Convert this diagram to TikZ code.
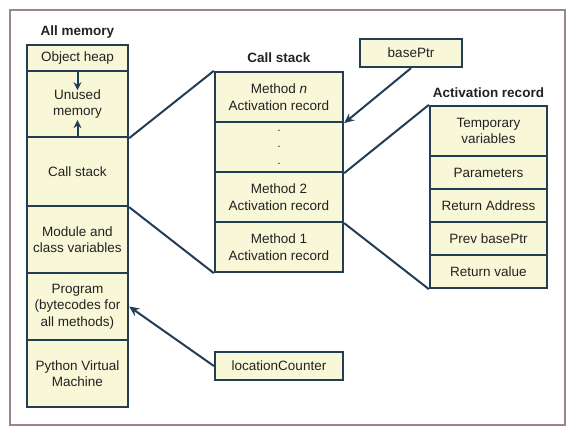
\documentclass[tikz,border=0pt]{standalone}
\usepackage{fontspec}
\setmainfont{Liberation Sans}
\usetikzlibrary{arrows.meta}
\definecolor{navy}{HTML}{233D55}
\definecolor{cream}{HTML}{F8F7D8}
\definecolor{frame}{HTML}{9B8683}
\definecolor{ink}{HTML}{222222}
\begin{document}
\begin{tikzpicture}[x=1pt,y=-1pt,
  cell/.style={draw=navy, fill=cream, line width=2.3pt, inner sep=0pt, align=center,
    text=ink, font=\fontsize{13.5}{16.5}\selectfont},
  title/.style={font=\fontsize{13.5}{16}\selectfont\bfseries, text=ink, inner sep=0pt},
  conn/.style={draw=navy, line width=2pt},
  arr/.style={draw=navy, line width=2pt, -{Stealth[length=10pt,width=9pt]}},
  sarr/.style={draw=navy, line width=2pt, -{Stealth[length=8pt,width=8pt]}}]
\useasboundingbox (0,0) rectangle (576,438);
\draw[frame, line width=2pt] (10,10) rectangle (565,425);

% All memory
\node[title] (tall) at (77.5,32) {All memory};
\node[cell, minimum width=101pt, minimum height=26pt] (heap) at (77.5,58) {Object heap};
\node[cell, minimum width=101pt, minimum height=66pt] (unused) at (77.5,104) {Unused\\memory};
\node[cell, minimum width=101pt, minimum height=69pt] (cs) at (77.5,171.5) {Call stack};
\node[cell, minimum width=101pt, minimum height=67pt] (mod) at (77.5,239.5) {Module and\\class variables};
\node[cell, minimum width=101pt, minimum height=67pt] (prog) at (77.5,306.5) {Program\\(bytecodes for\\all methods)};
\node[cell, minimum width=101pt, minimum height=67pt] (pvm) at (77.5,373.5) {Python Virtual\\Machine};
\draw[sarr] (heap.south) -- ++(0,18);
\draw[sarr] (unused.south) -- ++(0,-18);

% Call stack
\node[title] (tcs) at (279,58) {Call stack};
\node[cell, minimum width=128pt, minimum height=50pt] (mn) at (279,97) {Method \textit{n}\\Activation record};
\node[cell, minimum width=128pt, minimum height=50pt, font=\fontsize{12}{16.5}\selectfont] (dots) at (279,147) {.\\.\\.};
\node[cell, minimum width=128pt, minimum height=50pt] (m2) at (279,197) {Method 2\\Activation record};
\node[cell, minimum width=128pt, minimum height=50pt] (m1) at (279,247) {Method 1\\Activation record};

% Activation record
\node[title] (tar) at (488.5,93) {Activation record};
\node[cell, minimum width=117pt, minimum height=50pt] (temp) at (488.5,131) {Temporary\\variables};
\node[cell, minimum width=117pt, minimum height=33pt] (par) at (488.5,172.5) {Parameters};
\node[cell, minimum width=117pt, minimum height=33pt] (ra) at (488.5,205.5) {Return Address};
\node[cell, minimum width=117pt, minimum height=33pt] (pb) at (488.5,238.5) {Prev basePtr};
\node[cell, minimum width=117pt, minimum height=33pt] (rv) at (488.5,271.5) {Return value};

% pointers
\node[cell, minimum width=102pt, minimum height=28pt] (bp) at (411,53) {basePtr};
\node[cell, minimum width=128pt, minimum height=28pt] (lc) at (279,366) {locationCounter};

% connectors
\draw[conn] (unused.south east) -- (mn.north west);
\draw[conn] (cs.south east) -- (m1.south west);
\draw[conn] (dots.south east) -- (temp.north west);
\draw[conn] (m2.south east) -- (rv.south west);
\draw[arr] (bp.south) -- (mn.south east);
\draw[arr] (lc.west) -- (prog.east);
\end{tikzpicture}
\end{document}
